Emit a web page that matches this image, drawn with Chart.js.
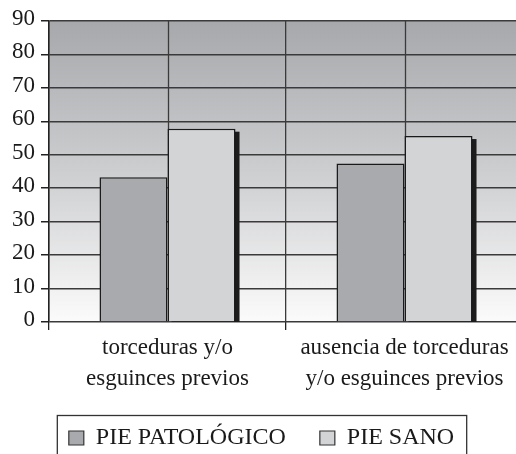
<!DOCTYPE html>
<html>
<head>
<meta charset="utf-8">
<script src="https://cdn.jsdelivr.net/npm/chart.js@4.4.1/dist/chart.umd.min.js"></script>
<style>
html,body{margin:0;padding:0;background:#fff;overflow:hidden}
canvas{display:block}
</style>
</head>
<body>
<canvas id="c" width="524" height="454"></canvas>
<script>
const categories=[['torceduras y/o','esguinces previos'],['ausencia de torceduras','y/o esguinces previos']];
const piePatologico=[43.3,47.4];
const pieSano=[57.8,55.6];
const seriesNames=['PIE PATOLÓGICO','PIE SANO'];
const yMin=0,yMax=90,yStep=10;

const FONT="'Liberation Serif','Times New Roman',serif";
const INK='#1a1a1a';

// plot background gradient (dark gray at top to almost white at bottom)
const bgPlugin={id:'bg',beforeDraw(ch){
  const a=ch.chartArea,ctx=ch.ctx;
  const g=ctx.createLinearGradient(0,a.top,0,a.bottom);
  g.addColorStop(0,'#a7a8ab');g.addColorStop(0.5,'#cdced0');g.addColorStop(1,'#fbfbfb');
  ctx.save();ctx.fillStyle=g;ctx.fillRect(a.left,a.top,a.right-a.left,a.bottom-a.top);ctx.restore();
}};
// vertical lines through the middle of each category
const midLines={id:'midLines',beforeDatasetsDraw(ch){
  const x=ch.scales.x,a=ch.chartArea,ctx=ch.ctx;
  ctx.save();ctx.strokeStyle='#3a3a3a';ctx.lineWidth=1.3;
  categories.forEach((c,i)=>{const px=Math.round(x.getPixelForValue(i))+0.5;ctx.beginPath();ctx.moveTo(px,a.top);ctx.lineTo(px,a.bottom);ctx.stroke();});
  ctx.restore();
}};
// black drop shadow behind the light bars (taken from the bar elements)
const shadow={id:'shadow',beforeDatasetDraw(ch,args){
  if(args.index!==1)return;
  const a=ch.chartArea,ctx=ch.ctx;
  ctx.save();ctx.beginPath();ctx.rect(a.left,a.top,a.right-a.left,a.bottom-a.top);ctx.clip();
  ctx.fillStyle='#1c1c1c';
  args.meta.data.forEach(b=>{
    const p=b.getProps(['x','y','base','width'],true);
    ctx.fillRect(p.x-p.width/2+4,p.y+3,p.width,p.base-p.y);
  });
  ctx.restore();
}};
// x axis is fitted short so the legend sits close; let its labels draw past that box
const xLabelRoom={id:'xLabelRoom',afterLayout(ch){ch.scales.x.bottom=ch.height;}};
// frame round the legend
const legendFrame={id:'legendFrame',afterDraw(ch){
  const hb=ch.legend.legendHitBoxes;if(!hb||!hb.length)return;
  const last=hb[hb.length-1],ctx=ch.ctx;
  const l=hb[0].left-12,r=last.left+last.width+12,t=hb[0].top-11;
  ctx.save();ctx.strokeStyle='#333';ctx.lineWidth=1.3;ctx.strokeRect(l+0.5,t+0.5,r-l,ch.height);ctx.restore();
}};

new Chart(document.getElementById('c'),{
  type:'bar',
  data:{labels:categories,datasets:[
    {label:seriesNames[0],data:piePatologico,backgroundColor:'#a9aaad',borderColor:INK,borderWidth:1.5},
    {label:seriesNames[1],data:pieSano,backgroundColor:'#d3d4d6',borderColor:INK,borderWidth:1.5}
  ]},
  options:{
    responsive:false,animation:false,
    categoryPercentage:0.574,barPercentage:1,
    layout:{padding:{top:21,right:1,left:0,bottom:-6}},
    plugins:{
      tooltip:{enabled:false},
      legend:{position:'bottom',
        labels:{font:{family:FONT,size:24},color:INK,boxWidth:15,boxHeight:14,padding:34,
          generateLabels(ch){return ch.data.datasets.map((d,i)=>({text:d.label,fillStyle:d.backgroundColor,strokeStyle:'#333',lineWidth:1.2,datasetIndex:i,fontColor:INK}));}}
      }
    },
    scales:{
      x:{offset:true,
        afterFit(s){s.height=70;},
        grid:{offset:true,color:'#3a3a3a',lineWidth:1.3,tickLength:8,tickColor:'#222'},
        border:{display:false},
        ticks:{font:{family:FONT,size:23,lineHeight:1.35},color:INK,padding:2,maxRotation:0,autoSkip:false}
      },
      y:{min:yMin,max:yMax,
        afterFit(s){s.width=49;},
        grid:{color:'#3a3a3a',lineWidth:1.5,tickLength:8,tickColor:'#222'},
        border:{display:true,color:'#222',width:1.5},
        ticks:{stepSize:yStep,font:{family:FONT,size:23},color:INK,padding:6,labelOffset:-2}
      }
    }
  },
  plugins:[bgPlugin,midLines,shadow,xLabelRoom,legendFrame]
});
</script>
</body>
</html>
